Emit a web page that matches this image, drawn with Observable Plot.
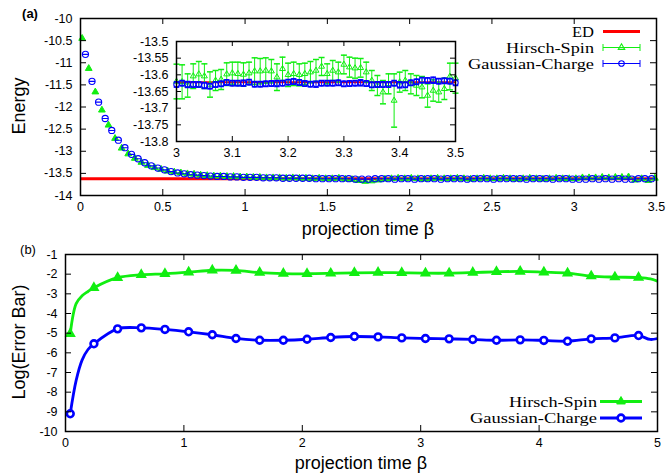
<!DOCTYPE html>
<html><head><meta charset="utf-8">
<script src="https://cdn.jsdelivr.net/npm/d3@7"></script>
<script src="https://cdn.jsdelivr.net/npm/@observablehq/plot@0.6"></script>
<style>
body{margin:0;background:#fff;}
#wrap{position:relative;width:667px;height:474px;overflow:hidden;background:#fff;font-family:"Liberation Sans",Arial,sans-serif;}
.lbl{position:absolute;color:#000;white-space:nowrap;line-height:1;}
</style></head><body><div id="wrap"></div>
<script>
// ---------- data: panel (a) main ----------
const ED = -13.622;
const betaTopHirsch = [0.01,0.05,0.09,0.13,0.17,0.21,0.25,0.29,0.33,0.37,0.41,0.45,0.49,0.53,0.57,0.61,0.65,0.69,0.73,0.77,0.81,0.85,0.89,0.93,0.97,1.01,1.05,1.09,1.13,1.17,1.21,1.25,1.29,1.33,1.37,1.41,1.45,1.49,1.53,1.57,1.61,1.65,1.69,1.73,1.77,1.81,1.85,1.89,1.93,1.97,2.01,2.05,2.09,2.13,2.17,2.21,2.25,2.29,2.33,2.37,2.41,2.45,2.49,2.53,2.57,2.61,2.65,2.69,2.73,2.77,2.81,2.85,2.89,2.93,2.97,3.01,3.05,3.09,3.13,3.17,3.21,3.25,3.29,3.33,3.37,3.41,3.45,3.49];
const energyTopHirsch = [-10.45,-11.13,-11.66,-12.07,-12.41,-12.71,-12.93,-13.06,-13.16,-13.25,
 -13.32,-13.37,-13.41,-13.45,-13.47,-13.49,-13.51,-13.52,-13.54,-13.55,
 -13.56,-13.56,-13.57,-13.57,-13.58,-13.58,-13.59,-13.59,-13.60,-13.60,
 -13.60,-13.61,-13.60,-13.61,-13.61,-13.62,-13.61,-13.62,-13.62,-13.61,
 -13.63,-13.64,-13.66,-13.68,-13.67,-13.65,-13.63,-13.62,-13.61,-13.62,
 -13.61,-13.62,-13.63,-13.62,-13.61,-13.62,-13.62,-13.61,-13.62,-13.63,
 -13.62,-13.61,-13.62,-13.62,-13.61,-13.62,-13.63,-13.62,-13.61,-13.62,
 -13.63,-13.62,-13.61,-13.62,-13.62,-13.62,-13.60,-13.60,-13.60,-13.59,
 -13.60,-13.59,-13.59,-13.58,-13.65,-13.62,-13.66,-13.61];
const betaTopGauss = [0.03,0.07,0.11,0.15,0.19,0.23,0.27,0.31,0.35,0.39,0.43,0.47,0.51,0.55,0.59,0.63,0.67,0.71,0.75,0.79,0.83,0.87,0.91,0.95,0.99,1.03,1.07,1.11,1.15,1.19,1.23,1.27,1.31,1.35,1.39,1.43,1.47,1.51,1.55,1.59,1.63,1.67,1.71,1.75,1.79,1.83,1.87,1.91,1.95,1.99,2.03,2.07,2.11,2.15,2.19,2.23,2.27,2.31,2.35,2.39,2.43,2.47,2.51,2.55,2.59,2.63,2.67,2.71,2.75,2.79,2.83,2.87,2.91,2.95,2.99,3.03,3.07,3.11,3.15,3.19,3.23,3.27,3.31,3.35,3.39,3.43,3.47];
const energyTopGauss = [-10.81,-11.42,-11.89,-12.26,-12.53,-12.75,-12.92,-13.07,-13.17,-13.26,
 -13.33,-13.38,-13.42,-13.46,-13.49,-13.51,-13.53,-13.54,-13.55,-13.56,
 -13.57,-13.57,-13.58,-13.58,-13.59,-13.59,-13.59,-13.60,-13.60,-13.60,
 -13.61,-13.61,-13.61,-13.61,-13.61,-13.62,-13.62,-13.62,-13.62,-13.62,
 -13.62,-13.63,-13.63,-13.63,-13.62,-13.62,-13.62,-13.63,-13.62,-13.62,
 -13.63,-13.62,-13.62,-13.62,-13.63,-13.62,-13.62,-13.62,-13.63,-13.62,
 -13.62,-13.62,-13.63,-13.62,-13.62,-13.62,-13.62,-13.63,-13.62,-13.62,
 -13.62,-13.63,-13.62,-13.62,-13.63,-13.63,-13.63,-13.62,-13.63,-13.62,
 -13.63,-13.62,-13.63,-13.63,-13.62,-13.62,-13.62];
const xTicksTop = [0,0.5,1,1.5,2,2.5,3,3.5];
const yTicksTop = [-14,-13.5,-13,-12.5,-12,-11.5,-11,-10.5,-10];

// ---------- data: panel (a) inset ----------
const insetBeta = [3.00,3.01,3.02,3.03,3.04,3.05,3.06,3.07,3.08,3.09,3.10,3.11,3.12,3.13,3.14,3.15,3.16,3.17,3.18,3.19,3.20,3.21,3.22,3.23,3.24,3.25,3.26,3.27,3.28,3.29,3.30,3.31,3.32,3.33,3.34,3.35,3.36,3.37,3.38,3.39,3.40,3.41,3.42,3.43,3.44,3.45,3.46,3.47,3.48,3.49,3.50];
const insetHirsch = [-13.620,-13.621,-13.632,-13.604,-13.598,-13.604,-13.629,-13.617,-13.614,-13.598,
 -13.595,-13.597,-13.599,-13.595,-13.589,-13.589,-13.587,-13.589,-13.607,-13.582,
 -13.600,-13.597,-13.600,-13.597,-13.592,-13.587,-13.575,-13.597,-13.587,-13.592,
 -13.569,-13.577,-13.580,-13.579,-13.592,-13.617,-13.632,-13.652,-13.627,-13.677,
 -13.622,-13.617,-13.627,-13.632,-13.637,-13.662,-13.647,-13.652,-13.642,-13.605,
 -13.610];
const insetHirschErr = [0.052,0.051,0.035,0.037,0.038,0.037,0.038,0.030,0.030,0.034,
 0.033,0.035,0.035,0.033,0.040,0.038,0.038,0.035,0.040,0.035,
 0.035,0.035,0.033,0.032,0.032,0.033,0.027,0.030,0.030,0.030,
 0.028,0.030,0.030,0.028,0.030,0.030,0.030,0.035,0.030,0.080,
 0.030,0.030,0.030,0.030,0.032,0.035,0.032,0.030,0.032,0.040,
 0.045];
const insetGauss = [-13.629,-13.625,-13.629,-13.629,-13.629,-13.632,-13.634,-13.629,-13.627,-13.623,
 -13.625,-13.625,-13.625,-13.622,-13.628,-13.628,-13.627,-13.626,-13.626,-13.625,
 -13.622,-13.620,-13.623,-13.626,-13.628,-13.628,-13.625,-13.625,-13.625,-13.624,
 -13.627,-13.626,-13.625,-13.624,-13.626,-13.630,-13.629,-13.629,-13.629,-13.625,
 -13.630,-13.630,-13.624,-13.621,-13.616,-13.617,-13.616,-13.619,-13.618,-13.619,
 -13.624];
const insetGaussErr = [0.008,0.008,0.009,0.008,0.008,0.009,0.008,0.008,0.008,0.008,
 0.008,0.008,0.009,0.008,0.008,0.008,0.008,0.008,0.009,0.008,
 0.008,0.008,0.008,0.008,0.008,0.009,0.008,0.008,0.008,0.008,
 0.008,0.008,0.008,0.009,0.008,0.008,0.008,0.008,0.008,0.008,
 0.009,0.008,0.008,0.008,0.008,0.008,0.009,0.008,0.008,0.008,
 0.008];
const xTicksInset = [3,3.1,3.2,3.3,3.4,3.5];
const yTicksInset = [-13.8,-13.75,-13.7,-13.65,-13.6,-13.55,-13.5];

// ---------- data: panel (b) ----------
const betaErr = [0.04,0.24,0.44,0.64,0.84,1.04,1.24,1.44,1.64,1.84,2.04,2.24,2.44,2.64,2.84,3.04,3.24,3.44,3.64,3.84,4.04,4.24,4.44,4.64,4.84];
const logErrHirsch = [-5.03,-2.69,-2.18,-2.03,-1.98,-1.90,-1.80,-1.81,-1.92,-1.97,-1.98,-1.96,-1.93,-1.92,-1.93,-1.95,-1.95,-1.92,-1.88,-1.86,-1.90,-1.95,-2.10,-2.15,-2.17];
const logErrGauss = [-9.10,-5.54,-4.78,-4.73,-4.81,-4.93,-5.08,-5.27,-5.36,-5.36,-5.31,-5.22,-5.17,-5.19,-5.24,-5.27,-5.29,-5.32,-5.36,-5.34,-5.37,-5.41,-5.29,-5.24,-5.12];
// line points between markers
const betaExtra = [0.09,0.14,0.19,4.94,5.04];
const logErrHirschExtra = [-3.50,-3.10,-2.88,-2.24,-2.45];
const logErrGaussExtra = [-7.40,-6.37,-5.83,-5.32,-5.20];
const xTicksB = [0,1,2,3,4,5];
const yTicksB = [-10,-9,-8,-7,-6,-5,-4,-3,-2,-1];

// ---------- style ----------
const GREEN = "#11ee11", BLUE = "#0000ff", RED = "#ff0000";
const SANS = "'Liberation Sans', Arial, sans-serif";
const SERIF = "'Liberation Serif', 'Times New Roman', serif";
const fmt = d => String(d);

const circleDash = {draw(ctx, size){ const r = Math.sqrt(size/Math.PI); ctx.moveTo(r,0); ctx.arc(0,0,r,0,2*Math.PI); ctx.moveTo(-r,0); ctx.lineTo(r,0);} };
const capSym = {draw(ctx, size){ const r = Math.sqrt(size/Math.PI); ctx.moveTo(-r,0); ctx.lineTo(r,0);} };

function inwardTicks(xt, yt, innerW, innerH, len){
  return [
    Plot.tickX(xt, {x: d=>d, insetTop: innerH-len, stroke:"#000"}),
    Plot.tickX(xt, {x: d=>d, insetBottom: innerH-len, stroke:"#000"}),
    Plot.tickY(yt, {y: d=>d, insetRight: innerW-len, stroke:"#000"}),
    Plot.tickY(yt, {y: d=>d, insetLeft: innerW-len, stroke:"#000"})
  ];
}

const wrap = document.getElementById("wrap");
function place(svg, left, top){ svg.style.position="absolute"; svg.style.left=left+"px"; svg.style.top=top+"px"; wrap.appendChild(svg); }
function label(text, x, y, size, opts={}){
  const d = document.createElement("div"); d.className="lbl"; d.textContent=text;
  d.style.left=x+"px"; d.style.top=y+"px"; d.style.fontSize=size+"px";
  d.style.fontFamily = opts.family || SANS; if (opts.bold) d.style.fontWeight="bold";
  d.style.transform = "translate(-50%,-50%)" + (opts.rotate ? " rotate(-90deg)" : "");
  wrap.appendChild(d);
}

// ---------- panel (a) ----------
{
  const W=667,H=240,mt=18,mb=45,ml=80,mr=11;
  const p = Plot.plot({
    width:W, height:H, marginTop:mt, marginBottom:mb, marginLeft:ml, marginRight:mr,
    x:{domain:[0,3.5]}, y:{domain:[-14,-10]},
    style:{background:"transparent", fontFamily:SANS, fontSize:"12.5px", overflow:"visible"},
    marks:[
      Plot.ruleY([ED], {stroke:RED, strokeWidth:3}),
      Plot.dot(energyTopHirsch, {x:betaTopHirsch, y:energyTopHirsch, symbol:"triangle", r:2.5, fill:GREEN, stroke:GREEN, strokeWidth:1}),
      Plot.dot(energyTopGauss, {x:betaTopGauss, y:energyTopGauss, symbol:circleDash, r:3.1, fill:"none", stroke:BLUE, strokeWidth:1.1}),
      ...inwardTicks(xTicksTop, yTicksTop, W-ml-mr, H-mt-mb, 6),
      Plot.axisX({ticks:xTicksTop, tickSize:0, tickPadding:7, tickFormat:fmt, label:null}),
      Plot.axisY({ticks:yTicksTop, tickSize:0, tickPadding:8, tickFormat:fmt, label:null}),
      Plot.frame({stroke:"#000", strokeWidth:1.5})
    ]
  });
  place(p, 0, 0);
}

// ---------- inset ----------
{
  const W=344,H=129,mt=5,mb=24,ml=60,mr=5;
  const hLow = insetHirsch.map((v,i)=>v-insetHirschErr[i]), hHigh = insetHirsch.map((v,i)=>v+insetHirschErr[i]);
  const gLow = insetGauss.map((v,i)=>v-insetGaussErr[i]), gHigh = insetGauss.map((v,i)=>v+insetGaussErr[i]);
  const p = Plot.plot({
    width:W, height:H, marginTop:mt, marginBottom:mb, marginLeft:ml, marginRight:mr,
    x:{domain:[3,3.5]}, y:{domain:[-13.8,-13.5]},
    style:{background:"transparent", fontFamily:SANS, fontSize:"12.5px", overflow:"visible"},
    marks:[
      Plot.ruleY([ED], {stroke:RED, strokeWidth:2}),
      Plot.ruleX(insetBeta, {x:insetBeta, y1:hLow, y2:hHigh, stroke:GREEN, strokeWidth:1}),
      Plot.dot(insetBeta, {x:insetBeta, y:hLow, symbol:capSym, r:3, stroke:GREEN, fill:"none"}),
      Plot.dot(insetBeta, {x:insetBeta, y:hHigh, symbol:capSym, r:3, stroke:GREEN, fill:"none"}),
      Plot.dot(insetBeta, {x:insetBeta, y:insetHirsch, symbol:"triangle", r:2.2, stroke:GREEN, fill:"none", strokeWidth:1}),
      Plot.ruleX(insetBeta, {x:insetBeta, y1:gLow, y2:gHigh, stroke:BLUE, strokeWidth:1}),
      Plot.dot(insetBeta, {x:insetBeta, y:gLow, symbol:capSym, r:2.8, stroke:BLUE, fill:"none"}),
      Plot.dot(insetBeta, {x:insetBeta, y:gHigh, symbol:capSym, r:2.8, stroke:BLUE, fill:"none"}),
      Plot.dot(insetBeta, {x:insetBeta, y:insetGauss, symbol:"circle", r:2.7, stroke:BLUE, fill:"none", strokeWidth:1.1}),
      ...inwardTicks(xTicksInset, yTicksInset, W-ml-mr, H-mt-mb, 5),
      Plot.axisX({ticks:xTicksInset, tickSize:0, tickPadding:7, tickFormat:fmt, label:null}),
      Plot.axisY({ticks:yTicksInset, tickSize:0, tickPadding:8, tickFormat:fmt, label:null}),
      Plot.frame({stroke:"#000", strokeWidth:1.5})
    ]
  });
  place(p, 116, 36);
}

// ---------- panel (b) ----------
{
  const W=667,H=234,mt=14,mb=43,ml=65,mr=10;
  const lineH = betaErr.map((b,i)=>({b, v:logErrHirsch[i]})).concat(betaExtra.map((b,i)=>({b, v:logErrHirschExtra[i]}))).sort((a,c)=>a.b-c.b);
  const lineG = betaErr.map((b,i)=>({b, v:logErrGauss[i]})).concat(betaExtra.map((b,i)=>({b, v:logErrGaussExtra[i]}))).sort((a,c)=>a.b-c.b);
  const p = Plot.plot({
    width:W, height:H, marginTop:mt, marginBottom:mb, marginLeft:ml, marginRight:mr,
    x:{domain:[0,5]}, y:{domain:[-10,-1]},
    style:{background:"transparent", fontFamily:SANS, fontSize:"12.5px", overflow:"visible"},
    marks:[
      Plot.line(lineH, {x:"b", y:"v", curve:"catmull-rom", stroke:GREEN, strokeWidth:2.8, clip:true}),
      Plot.dot(logErrHirsch, {x:betaErr, y:logErrHirsch, symbol:"triangle", r:3.2, fill:GREEN, stroke:GREEN}),
      Plot.line(lineG, {x:"b", y:"v", curve:"catmull-rom", stroke:BLUE, strokeWidth:2.8, clip:true}),
      Plot.dot(logErrGauss, {x:betaErr, y:logErrGauss, symbol:"circle", r:3.4, fill:"#fff", stroke:BLUE, strokeWidth:2.6}),
      ...inwardTicks(xTicksB, yTicksB, W-ml-mr, H-mt-mb, 6),
      Plot.axisX({ticks:xTicksB, tickSize:0, tickPadding:7, tickFormat:fmt, label:null}),
      Plot.axisY({ticks:yTicksB, tickSize:0, tickPadding:8, tickFormat:fmt, label:null}),
      Plot.frame({stroke:"#000", strokeWidth:1.5})
    ]
  });
  place(p, 0, 240);
}

// ---------- titles ----------
label("(a)", 30, 13, 13, {bold:true});
label("(b)", 28, 249, 13);
label("Energy", 19, 106, 18, {rotate:true});
label("projection time β", 368, 229, 18);
label("Log(Error Bar)", 19, 342, 18, {rotate:true});
label("projection time β", 361, 463, 18);

// ---------- legends ----------
{
  const svg = d3.create("svg").attr("width",667).attr("height",474)
    .style("position","absolute").style("left","0px").style("top","0px");
  const g = svg.append("g").attr("font-family", SERIF).attr("font-size", 15.5).attr("text-anchor","end");
  const topLegend = [
    {name:"ED", y:31.5, len:22, color:RED, kind:"ed"},
    {name:"Hirsch-Spin", y:47.5, len:88, color:GREEN, kind:"tri"},
    {name:"Gaussian-Charge", y:63.5, len:126, color:BLUE, kind:"circ"}
  ];
  topLegend.forEach(e=>{
    g.append("text").attr("x",594).attr("y",e.y).attr("dy","0.35em")
      .attr("textLength", e.len).attr("lengthAdjust","spacingAndGlyphs").text(e.name);
    if (e.kind==="ed") {
      g.append("line").attr("x1",603).attr("x2",640).attr("y1",e.y).attr("y2",e.y).attr("stroke",e.color).attr("stroke-width",3);
    } else {
      g.append("line").attr("x1",603).attr("x2",640).attr("y1",e.y).attr("y2",e.y).attr("stroke",e.color);
      [603,640].forEach(x=>g.append("line").attr("x1",x).attr("x2",x).attr("y1",e.y-3.5).attr("y2",e.y+3.5).attr("stroke",e.color));
      const sym = e.kind==="tri" ? d3.symbolTriangle : d3.symbolCircle;
      g.append("path").attr("d", d3.symbol(sym, e.kind==="tri"?18:25)()).attr("transform",`translate(621.5,${e.y})`).attr("fill","none").attr("stroke",e.color).attr("stroke-width",1.1);
    }
  });
  const botLegend = [
    {name:"Hirsch-Spin", y:401.5, len:88, color:GREEN, kind:"tri"},
    {name:"Gaussian-Charge", y:418, len:127, color:BLUE, kind:"circ"}
  ];
  botLegend.forEach(e=>{
    g.append("text").attr("x",597).attr("y",e.y).attr("dy","0.35em")
      .attr("textLength", e.len).attr("lengthAdjust","spacingAndGlyphs").text(e.name);
    g.append("line").attr("x1",600).attr("x2",642).attr("y1",e.y).attr("y2",e.y).attr("stroke",e.color).attr("stroke-width",2.8);
    if (e.kind==="tri") g.append("path").attr("d", d3.symbol(d3.symbolTriangle, 32)()).attr("transform",`translate(621,${e.y})`).attr("fill",e.color).attr("stroke",e.color);
    else g.append("circle").attr("cx",621).attr("cy",e.y).attr("r",3.4).attr("fill","#fff").attr("stroke",e.color).attr("stroke-width",2.6);
  });
  wrap.appendChild(svg.node());
}
</script>
</body></html>
